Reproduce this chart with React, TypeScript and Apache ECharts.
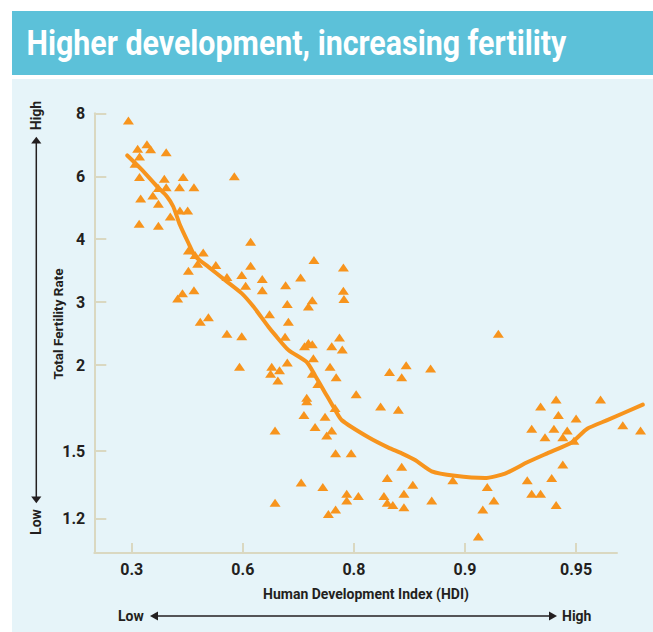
import { useEffect, useRef } from "react";
import * as echarts from "echarts";

// ---- axis ticks (the chart uses its own uneven spacing) ----
const xTickValues = [0.3, 0.6, 0.8, 0.9, 0.95];
const xTickLabels = ["0.3", "0.6", "0.8", "0.9", "0.95"];
const xTickSlots = [0, 1, 2, 3, 4];
const yTickValues = [1.2, 1.5, 2, 3, 4, 6, 8];
const yTickLabels = ["1.2", "1.5", "2", "3", "4", "6", "8"];
const yTickSlots = [-0.437, 0.635, 2, 3, 4, 5, 6];

// ---- countries: HDI and total fertility rate ----
const countryHdi = [
  0.291, 0.316, 0.341, 0.351, 0.393, 0.321, 0.309, 0.321, 0.388, 0.439,
  0.577, 0.372, 0.393, 0.429, 0.468, 0.324, 0.357, 0.372, 0.43, 0.451,
  0.404, 0.32, 0.372, 0.614, 0.453, 0.471, 0.493, 0.478, 0.527, 0.614,
  0.453, 0.557, 0.597, 0.605, 0.635, 0.635, 0.468, 0.437, 0.424, 0.648,
  0.507, 0.485, 0.557, 0.597, 0.591, 0.652, 0.65, 0.658, 0.658, 0.728,
  0.781, 0.704, 0.677, 0.781, 0.782, 0.68, 0.725, 0.718, 0.682, 0.676,
  0.711, 0.718, 0.725, 0.774, 0.76, 0.779, 0.727, 0.68, 0.666, 0.663,
  0.757, 0.768, 0.725, 0.735, 0.715, 0.715, 0.802, 0.71, 0.748, 0.766,
  0.73, 0.76, 0.751, 0.767, 0.795, 0.832, 0.847, 0.843, 0.869, 0.824,
  0.84, 0.843, 0.83, 0.853, 0.845, 0.827, 0.83, 0.835, 0.845, 0.87,
  0.889, 0.705, 0.744, 0.787, 0.804, 0.787, 0.767, 0.754, 0.915, 0.934,
  0.941, 0.961, 0.942, 0.95, 0.93, 0.94, 0.946, 0.936, 0.944, 0.949,
  0.971, 0.979, 0.944, 0.939, 0.928, 0.91, 0.913, 0.908, 0.93, 0.934,
  0.941, 0.906,
];
const countryTfr = [
  7.77, 6.87, 7.02, 6.86, 6.76, 6.63, 6.4, 5.98, 5.92, 5.98,
  6.0, 5.63, 5.65, 5.65, 5.65, 5.29, 5.39, 5.13, 4.91, 4.91,
  4.72, 4.49, 4.43, 3.96, 3.82, 3.75, 3.79, 3.61, 3.59, 3.58,
  3.5, 3.4, 3.43, 3.26, 3.37, 3.19, 3.19, 3.14, 3.06, 2.81,
  2.76, 2.69, 2.5, 2.46, 1.99, 1.99, 1.95, 1.62, 1.27, 3.67,
  3.55, 3.39, 3.27, 3.18, 3.05, 2.97, 3.03, 2.93, 2.69, 2.45,
  2.3, 2.35, 2.33, 2.44, 2.3, 2.25, 2.11, 2.04, 1.97, 1.91,
  1.99, 1.93, 1.95, 1.89, 1.81, 1.79, 1.83, 1.71, 1.7, 1.75,
  1.64, 1.62, 1.59, 1.49, 1.49, 1.96, 2.0, 1.93, 1.98, 1.76,
  1.74, 1.43, 1.38, 1.35, 1.31, 1.3, 1.27, 1.26, 1.25, 1.28,
  1.37, 1.36, 1.34, 1.31, 1.3, 1.28, 1.24, 1.22, 2.5, 1.76,
  1.8, 1.8, 1.71, 1.69, 1.63, 1.63, 1.62, 1.58, 1.58, 1.56,
  1.65, 1.62, 1.44, 1.38, 1.37, 1.34, 1.28, 1.24, 1.31, 1.31,
  1.26, 1.12,
];

// ---- smoothed trend ----
const trendHdi = [
  0.288, 0.327, 0.368, 0.395, 0.412, 0.43, 0.453, 0.471, 0.507, 0.552,
  0.597, 0.619, 0.646, 0.658, 0.682, 0.715, 0.73, 0.748, 0.766, 0.778,
  0.813, 0.831, 0.843, 0.855, 0.87, 0.891, 0.909, 0.918, 0.928, 0.937,
  0.948, 0.955, 0.964, 0.98,
];
const trendTfr = [
  6.66, 6.21, 5.68, 5.36, 5.04, 4.46, 3.94, 3.73, 3.56, 3.35,
  3.14, 2.93, 2.61, 2.48, 2.24, 2.05, 1.94, 1.84, 1.74, 1.68,
  1.58, 1.52, 1.49, 1.46, 1.41, 1.39, 1.38, 1.4, 1.45, 1.49,
  1.55, 1.63, 1.68, 1.77,
];

const TITLE = "Higher development, increasing fertility";
const X_NAME = "Human Development Index (HDI)";
const Y_NAME = "Total Fertility Rate";

function piecewise(v: number, vals: number[], slots: number[]) {
  let i = 0;
  if (v >= vals[vals.length - 1]) i = vals.length - 2;
  else if (v > vals[0]) {
    while (v > vals[i + 1]) i++;
  }
  const t = (v - vals[i]) / (vals[i + 1] - vals[i]);
  return slots[i] + t * (slots[i + 1] - slots[i]);
}
const toX = (h: number) => piecewise(h, xTickValues, xTickSlots);
const toY = (f: number) => piecewise(f, yTickValues, yTickSlots);

const ORANGE = "#F7941D";
const AXIS = "#DAD8C1";
const INK = "#231F20";
const FONT = "Roboto, 'Noto Sans', sans-serif";

// visible axis frame and a wider, invisible plotting frame with the same scale
const X_MIN = -0.337;
const X_MAX_AXIS = 4.368;
const X_MAX_PLOT = 4.62;
const Y_MIN = -0.984;
const Y_MAX = 6;

function labelFor(v: number, slots: number[], labels: string[]) {
  const i = slots.findIndex((s) => Math.abs(s - v) < 1e-6);
  return i >= 0 ? labels[i] : "";
}

export default function App() {
  const ref = useRef<HTMLDivElement>(null);
  useEffect(() => {
    document.body.style.margin = "0";
    if (!ref.current) return;
    const chart = echarts.init(ref.current, null, { renderer: "svg" });
    const points = countryHdi.map((h, i) => [toX(h), toY(countryTfr[i])]);
    const trend = trendHdi.map((h, i) => [toX(h), toY(trendTfr[i])]);
    const labelStyle = {
      color: INK,
      fontFamily: FONT,
      fontWeight: "bold",
      fontSize: 16,
    };
    chart.setOption({
      animation: false,
      backgroundColor: "#ffffff",
      grid: [
        { left: 94.3, right: 36, top: 113.3, bottom: 79 },
        { left: 94.3, right: 8, top: 113.3, bottom: 79 },
      ],
      xAxis: [
        {
          type: "value",
          gridIndex: 0,
          min: X_MIN,
          max: X_MAX_AXIS,
          splitLine: { show: false },
          axisLine: { show: true, onZero: false, lineStyle: { color: AXIS, width: 2 } },
          axisTick: {
            show: true,
            inside: true,
            length: 10,
            customValues: xTickSlots,
            lineStyle: { color: AXIS, width: 2 },
          },
          axisLabel: {
            ...labelStyle,
            customValues: xTickSlots,
            formatter: (v: number) => labelFor(v, xTickSlots, xTickLabels),
            margin: 8,
          },
        },
        {
          type: "value",
          gridIndex: 1,
          min: X_MIN,
          max: X_MAX_PLOT,
          show: false,
          splitLine: { show: false },
        },
      ],
      yAxis: [
        {
          type: "value",
          gridIndex: 0,
          min: Y_MIN,
          max: Y_MAX,
          splitLine: { show: false },
          axisLine: { show: true, onZero: false, lineStyle: { color: AXIS, width: 2 } },
          axisTick: {
            show: true,
            inside: true,
            length: 12,
            customValues: yTickSlots,
            lineStyle: { color: AXIS, width: 2 },
          },
          axisLabel: {
            ...labelStyle,
            customValues: yTickSlots,
            formatter: (v: number) => labelFor(v, yTickSlots, yTickLabels),
            margin: 9,
            padding: [6, 0, 0, 0],
          },
        },
        {
          type: "value",
          gridIndex: 1,
          min: Y_MIN,
          max: Y_MAX,
          show: false,
          splitLine: { show: false },
        },
      ],
      series: [
        {
          type: "scatter",
          xAxisIndex: 1,
          yAxisIndex: 1,
          data: points,
          symbol: "triangle",
          symbolSize: [11, 8],
          itemStyle: { color: ORANGE, opacity: 1 },
          clip: false,
          z: 2,
        },
        {
          type: "line",
          xAxisIndex: 1,
          yAxisIndex: 1,
          data: trend,
          showSymbol: false,
          symbol: "none",
          smooth: 0.2,
          clip: false,
          lineStyle: { color: ORANGE, width: 4, cap: "round", join: "round" },
          z: 3,
        },
      ],
      graphic: [
        { type: "rect", z: -100, silent: true, shape: { x: 12, y: 11, width: 641, height: 64 }, style: { fill: "#5CC1D9" } },
        { type: "rect", z: -100, silent: true, shape: { x: 12, y: 79, width: 641, height: 553 }, style: { fill: "#E6F4F9" } },
        {
          type: "text",
          x: 26.5,
          y: 43,
          scaleX: 0.868,
          style: {
            text: TITLE,
            fill: "#ffffff",
            font: `bold 35px ${FONT}`,
            textAlign: "left",
            textVerticalAlign: "middle",
          },
        },
        {
          type: "text",
          x: 58,
          y: 324,
          rotation: Math.PI / 2,
          style: {
            text: Y_NAME,
            fill: INK,
            font: `bold 13.5px ${FONT}`,
            textAlign: "center",
            textVerticalAlign: "middle",
          },
        },
        {
          type: "text",
          x: 366,
          y: 594,
          style: {
            text: X_NAME,
            fill: INK,
            font: `bold 14px ${FONT}`,
            textAlign: "center",
            textVerticalAlign: "middle",
          },
        },
        // vertical arrow
        { type: "line", shape: { x1: 36.3, y1: 142, x2: 36.3, y2: 498 }, style: { stroke: INK, lineWidth: 1.5 } },
        { type: "polygon", shape: { points: [[36.3, 136.7], [31.2, 143.5], [41.4, 143.5]] }, style: { fill: INK } },
        { type: "polygon", shape: { points: [[36.3, 503.3], [31.2, 496.5], [41.4, 496.5]] }, style: { fill: INK } },
        {
          type: "text",
          x: 35.5,
          y: 115.5,
          rotation: Math.PI / 2,
          style: { text: "High", fill: INK, font: `bold 14px ${FONT}`, textAlign: "center", textVerticalAlign: "middle" },
        },
        {
          type: "text",
          x: 35.5,
          y: 522,
          rotation: Math.PI / 2,
          style: { text: "Low", fill: INK, font: `bold 14px ${FONT}`, textAlign: "center", textVerticalAlign: "middle" },
        },
        // horizontal arrow
        { type: "line", shape: { x1: 156, y1: 616, x2: 551, y2: 616 }, style: { stroke: INK, lineWidth: 1.5 } },
        { type: "polygon", shape: { points: [[150, 616], [158, 611.6], [158, 620.4]] }, style: { fill: INK } },
        { type: "polygon", shape: { points: [[557, 616], [549, 611.6], [549, 620.4]] }, style: { fill: INK } },
        {
          type: "text",
          x: 118,
          y: 616,
          style: { text: "Low", fill: INK, font: `bold 14px ${FONT}`, textAlign: "left", textVerticalAlign: "middle" },
        },
        {
          type: "text",
          x: 562,
          y: 616,
          style: { text: "High", fill: INK, font: `bold 14px ${FONT}`, textAlign: "left", textVerticalAlign: "middle" },
        },
      ],
    });
    return () => chart.dispose();
  }, []);
  return <div ref={ref} style={{ width: 653, height: 632 }} />;
}
